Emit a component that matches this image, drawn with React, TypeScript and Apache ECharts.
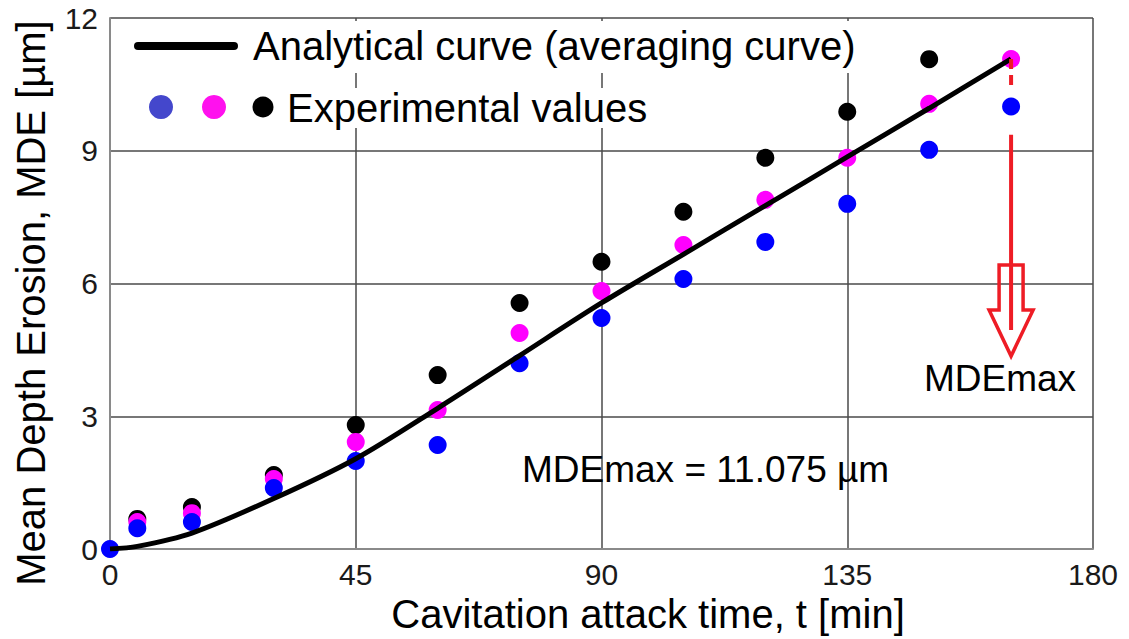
import React, { useEffect, useRef } from "react";
import * as echarts from "echarts";

const xTicks = [0, 45, 90, 135, 180];
const yTicks = [0, 3, 6, 9, 12];

const tBlue = [0, 5, 15, 30, 45, 60, 75, 90, 105, 120, 135, 150, 165];
const blueValues = [0, 0.47, 0.61, 1.38, 1.99, 2.35, 4.2, 5.22, 6.1, 6.94, 7.8, 9.02, 10.0];

const tMagenta = [5, 15, 30, 45, 60, 75, 90, 105, 120, 135, 150, 165];
const magentaValues = [0.61, 0.81, 1.58, 2.42, 3.14, 4.88, 5.83, 6.87, 7.89, 8.84, 10.06, 11.075];

const tBlack = [5, 15, 30, 45, 60, 75, 90, 105, 120, 135, 150];
const blackValues = [0.68, 0.95, 1.67, 2.8, 3.93, 5.56, 6.49, 7.62, 8.84, 9.88, 11.07];

const tCurve = [0, 5, 15, 30, 45, 60, 75, 90, 105, 120, 135, 150, 165];
const curveValues = [0, 0.06, 0.36, 1.14, 2.04, 3.18, 4.37, 5.56, 6.66, 7.76, 8.86, 9.96, 11.075];

const MDE_T = 165;
const MDE_MAX = 11.075;

const FONT = "'Liberation Sans', Arial, sans-serif";

const zip = (xs: number[], ys: number[]) => xs.map((x, i) => [x, ys[i]]);

export default function App() {
  const ref = useRef<HTMLDivElement>(null);
  useEffect(() => {
    if (!ref.current) return;
    const chart = echarts.init(ref.current, undefined, { renderer: "svg" });
    const option: any = {
      animation: false,
      backgroundColor: "#ffffff",
      grid: { left: 110, right: 36, top: 18, bottom: 90, containLabel: false },
      xAxis: {
        type: "value",
        min: 0,
        max: 180,
        interval: 45,
        axisLine: { show: true, onZero: false, lineStyle: { color: "#8a8a8a", width: 2 } },
        axisTick: { show: false },
        axisLabel: {
          color: "#1a1a1a",
          fontSize: 30,
          fontFamily: FONT,
          margin: 10,
          formatter: (v: number) => (xTicks.includes(v) ? String(v) : ""),
        },
        splitLine: { show: true, lineStyle: { color: "#4a4a4a", width: 1.5 } },
      },
      yAxis: {
        type: "value",
        min: 0,
        max: 12,
        interval: 3,
        axisLine: { show: true, onZero: false, lineStyle: { color: "#8a8a8a", width: 2 } },
        axisTick: { show: false },
        axisLabel: {
          color: "#1a1a1a",
          fontSize: 30,
          fontFamily: FONT,
          margin: 12,
          formatter: (v: number) => (yTicks.includes(v) ? String(v) : ""),
        },
        splitLine: { show: true, lineStyle: { color: "#4a4a4a", width: 1.5 } },
      },
      series: [
        {
          type: "scatter",
          data: zip(tBlack, blackValues),
          symbolSize: 18,
          itemStyle: { color: "#000000", opacity: 1 },
          z: 3,
        },
        {
          type: "scatter",
          data: zip(tMagenta, magentaValues),
          symbolSize: 18,
          itemStyle: { color: "#ff00ff", opacity: 1 },
          z: 4,
        },
        {
          type: "scatter",
          data: zip(tBlue, blueValues),
          symbolSize: 18,
          itemStyle: { color: "#0000ff", opacity: 1 },
          z: 5,
        },
        {
          type: "line",
          data: zip(tCurve, curveValues),
          smooth: 0.3,
          showSymbol: false,
          symbol: "none",
          lineStyle: { color: "#000000", width: 5 },
          z: 6,
        },
      ],
    };
    chart.setOption(option);

    const px = (t: number, v: number) => chart.convertToPixel({ gridIndex: 0 }, [t, v]) as number[];
    const top = px(MDE_T, MDE_MAX);
    const cx = top[0];
    const dashEnd = px(MDE_T, 10.46)[1];
    const solidStart = px(MDE_T, 9.36)[1];
    const solidEnd = px(MDE_T, 4.95)[1];
    const shaftTop = px(MDE_T, 6.42)[1];
    const headBase = px(MDE_T, 5.4)[1];
    const tip = px(MDE_T, 4.36)[1];
    const red = "#ee1c25";

    chart.setOption({
      graphic: [
        // legend backgrounds
        { type: "rect", z: 50, shape: { x: 112, y: 21, width: 762, height: 52 }, style: { fill: "#ffffff" } },
        { type: "rect", z: 50, shape: { x: 140, y: 88, width: 512, height: 40 }, style: { fill: "#ffffff" } },
        {
          type: "line",
          z: 51,
          shape: { x1: 138, y1: 46, x2: 234, y2: 46 },
          style: { stroke: "#000000", lineWidth: 8, lineCap: "round" },
        },
        {
          type: "text",
          z: 51,
          x: 253,
          y: 46,
          style: { text: "Analytical curve (averaging curve)", fill: "#000000", font: `40px ${FONT}`, verticalAlign: "middle" },
        },
        { type: "circle", z: 51, shape: { cx: 161, cy: 107, r: 12 }, style: { fill: "#4447cc" } },
        { type: "circle", z: 51, shape: { cx: 214, cy: 107, r: 12 }, style: { fill: "#ff11ee" } },
        { type: "circle", z: 51, shape: { cx: 263, cy: 107, r: 10.5 }, style: { fill: "#000000" } },
        {
          type: "text",
          z: 51,
          x: 287,
          y: 108,
          style: { text: "Experimental values", fill: "#000000", font: `40px ${FONT}`, verticalAlign: "middle" },
        },
        // axis titles
        {
          type: "text",
          z: 51,
          x: 648,
          y: 614,
          style: { text: "Cavitation attack time, t [min]", fill: "#000000", font: `40px ${FONT}`, align: "center", verticalAlign: "middle" },
        },
        {
          type: "text",
          z: 51,
          x: 31,
          y: 303,
          rotation: Math.PI / 2,
          style: { text: "Mean Depth Erosion, MDE [µm]", fill: "#000000", font: `40px ${FONT}`, align: "center", verticalAlign: "middle" },
        },
        // annotation text
        {
          type: "text",
          z: 51,
          x: 522,
          y: 469,
          style: { text: "MDEmax = 11.075 µm", fill: "#000000", font: `37px ${FONT}`, verticalAlign: "middle" },
        },
        {
          type: "text",
          z: 51,
          x: 1000,
          y: 378,
          style: { text: "MDEmax", fill: "#000000", font: `37px ${FONT}`, align: "center", verticalAlign: "middle" },
        },
        // red indicator
        {
          type: "line",
          z: 52,
          shape: { x1: cx, y1: top[1], x2: cx, y2: dashEnd },
          style: { stroke: red, lineWidth: 4, lineDash: [10, 6] },
        },
        {
          type: "line",
          z: 52,
          shape: { x1: cx, y1: solidStart, x2: cx, y2: solidEnd },
          style: { stroke: red, lineWidth: 4 },
        },
        {
          type: "polygon",
          z: 52,
          shape: {
            points: [
              [cx - 12, shaftTop],
              [cx + 12, shaftTop],
              [cx + 12, headBase],
              [cx + 22, headBase],
              [cx, tip],
              [cx - 22, headBase],
              [cx - 12, headBase],
            ],
          },
          style: { fill: "none", stroke: red, lineWidth: 3.5 },
        },
      ],
    });

    return () => chart.dispose();
  }, []);
  return <div ref={ref} style={{ position: "fixed", left: 0, top: 0, width: 1129, height: 639 }} />;
}
